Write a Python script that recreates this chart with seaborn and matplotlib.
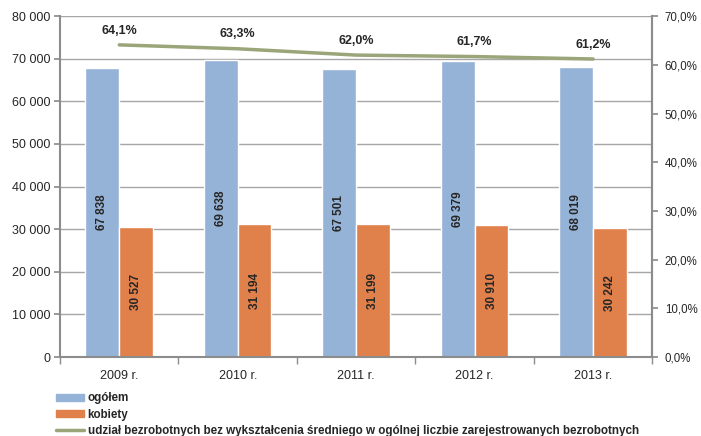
import seaborn as sns
import pandas as pd
import numpy as np
import matplotlib.pyplot as plt
from matplotlib.ticker import FuncFormatter, FixedLocator
from matplotlib.patches import Patch
from matplotlib.lines import Line2D

years = ["2009 r.", "2010 r.", "2011 r.", "2012 r.", "2013 r."]
ogolem = [67838, 69638, 67501, 69379, 68019]
kobiety = [30527, 31194, 31199, 30910, 30242]
udzial = [64.1, 63.3, 62.0, 61.7, 61.2]

series_names = ["ogółem", "kobiety"]
line_name = "udział bezrobotnych bez wykształcenia średniego w ogólnej liczbie zarejestrowanych bezrobotnych"

df = pd.DataFrame({
    "rok": years * 2,
    "seria": [series_names[0]] * 5 + [series_names[1]] * 5,
    "liczba": ogolem + kobiety,
})

sns.set_theme(style="white")
plt.rcParams['font.family'] = ['Liberation Sans', 'DejaVu Sans']

fig = plt.figure(figsize=(7.01, 4.36), dpi=100)
ax = fig.add_axes([0.0856, 0.181, 0.845, 0.782])

palette = {"ogółem": "#95b3d7", "kobiety": "#e0804a"}
sns.barplot(data=df, x="rok", y="liczba", hue="seria", palette=palette,
            width=0.57, gap=0, ax=ax, legend=False, saturation=1)

ax.set_ylim(0, 80000)
ax.set_xlim(-0.5, 4.5)
ax.set_yticks(np.arange(0, 80001, 10000))
ax.yaxis.set_major_formatter(FuncFormatter(lambda v, p: f"{int(v):,}".replace(",", " ")))
ax.grid(axis="y", color="#a6a6a6", linewidth=1)
ax.set_axisbelow(True)
ax.set_xlabel("")
ax.set_ylabel("")
ax.spines["top"].set_visible(False)
for s in ["left", "bottom", "right"]:
    ax.spines[s].set_color("#8c8c8c")
    ax.spines[s].set_linewidth(1.5)
ax.tick_params(axis="y", labelsize=9, length=4, color="#8c8c8c", left=True, pad=3)
ax.tick_params(axis="x", labelsize=9, length=0, pad=9)
ax.xaxis.set_minor_locator(FixedLocator(np.arange(-0.5, 4.6, 1)))
ax.tick_params(axis="x", which="minor", length=5, color="#8c8c8c", bottom=True)

for cont in ax.containers:
    ax.bar_label(cont, labels=[f"{int(v):,}".replace(",", " ") for v in cont.datavalues],
                 label_type="center", rotation=90, fontsize=8.5, fontweight="bold")

ax2 = ax.twinx()
sns.lineplot(x=np.arange(len(years)), y=udzial, ax=ax2, color="#9ba57a", linewidth=2.5)
ax2.set_ylim(0, 70)
ax2.set_yticks(np.arange(0, 71, 10))
ax2.yaxis.set_major_formatter(FuncFormatter(lambda v, p: f"{v:.1f}%".replace(".", ",")))
ax2.tick_params(axis="y", labelsize=8.3, length=4, color="#8c8c8c", right=True, pad=5)
for s in ["top", "left", "bottom"]:
    ax2.spines[s].set_visible(False)
ax2.spines["right"].set_color("#8c8c8c")
ax2.spines["right"].set_linewidth(1.5)
for i, v in enumerate(udzial):
    ax2.annotate(f"{v:.1f}%".replace(".", ","), (i, v), xytext=(0, 6),
                 textcoords="offset points", ha="center", va="bottom",
                 fontsize=9, fontweight="bold")

handles = [Patch(color=palette["ogółem"]), Patch(color=palette["kobiety"]),
           Line2D([0], [0], color="#9ba57a", linewidth=2.5)]
fig.legend(handles, series_names + [line_name], loc="upper left",
           bbox_to_anchor=(0.08, 0.1), frameon=False, ncol=1,
           prop={"size": 8.4, "weight": "bold"}, handlelength=2.4, handleheight=0.6,
           labelspacing=0.38, handletextpad=0.3, borderpad=0, borderaxespad=0)

fig.savefig("out.png", dpi=100)
